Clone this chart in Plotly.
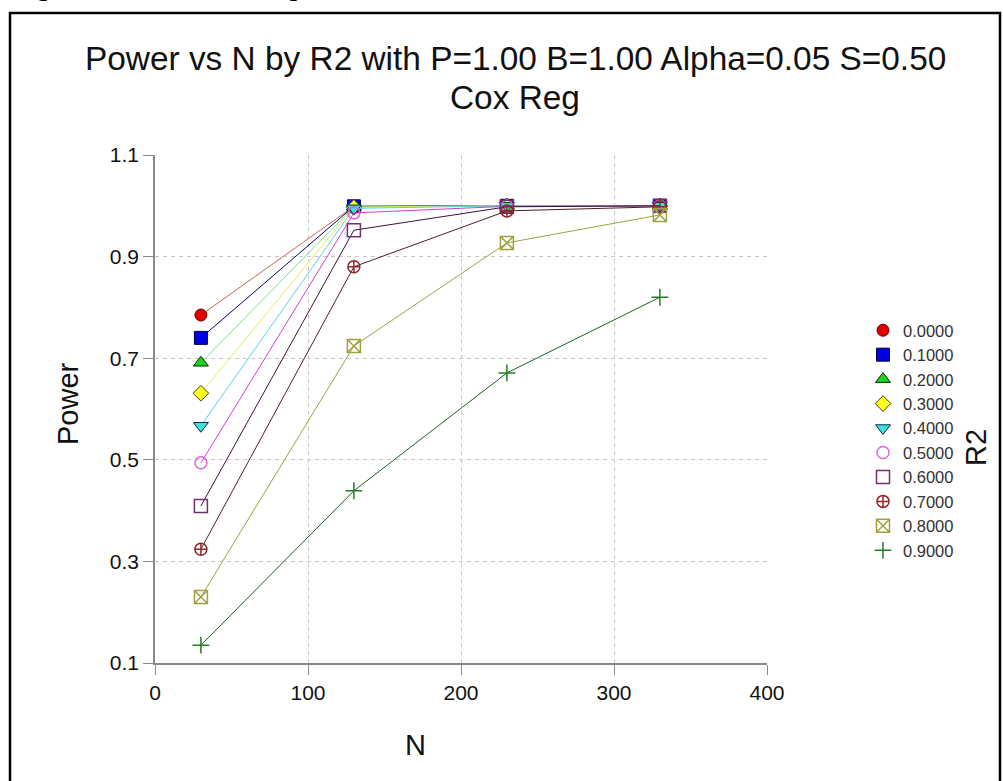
import plotly.graph_objects as go

# ---- data ----
N = [30, 130, 230, 330]
r2_labels = ["0.0000", "0.1000", "0.2000", "0.3000", "0.4000",
             "0.5000", "0.6000", "0.7000", "0.8000", "0.9000"]
power_r00 = [0.785, 0.999, 1.000, 1.000]
power_r01 = [0.740, 0.999, 1.000, 1.000]
power_r02 = [0.691, 0.998, 1.000, 1.000]
power_r03 = [0.631, 0.997, 1.000, 1.000]
power_r04 = [0.567, 0.995, 1.000, 1.000]
power_r05 = [0.494, 0.986, 0.999, 1.000]
power_r06 = [0.409, 0.952, 0.998, 1.000]
power_r07 = [0.324, 0.880, 0.990, 0.998]
power_r08 = [0.230, 0.724, 0.927, 0.982]
power_r09 = [0.135, 0.439, 0.671, 0.820]
x_ticks = [0, 100, 200, 300, 400]
y_ticks = [0.1, 0.3, 0.5, 0.7, 0.9, 1.1]

series = [power_r00, power_r01, power_r02, power_r03, power_r04,
          power_r05, power_r06, power_r07, power_r08, power_r09]

# ---- styles ----
styles = [
    dict(symbol="circle", fill="#E00000", edge="#700000", line="#D06050", size=12),
    dict(symbol="square", fill="#0000E0", edge="#000040", line="#000080", size=13),
    dict(symbol="triangle-up", fill="#20D020", edge="#003000", line="#80E080", size=13),
    dict(symbol="diamond", fill="#FFFF20", edge="#404000", line="#E8E860", size=12),
    dict(symbol="triangle-down", fill="#40E0E0", edge="#003040", line="#60D0E0", size=13),
    dict(symbol="circle-open", fill="#DD66DD", edge="#DD66DD", line="#D040D0", size=12),
    dict(symbol="square-open", fill="#703070", edge="#703070", line="#401040", size=13),
    dict(symbol="circle-cross-open", fill="#902828", edge="#902828", line="#502020", size=12),
    dict(symbol="square-x-open", fill="#A0A040", edge="#A0A040", line="#A0A040", size=13),
    dict(symbol="cross-thin-open", fill="#208020", edge="#208020", line="#206020", size=12),
]

fig = go.Figure()

for name, vals, st in zip(r2_labels, series, styles):
    open_sym = "open" in st["symbol"]
    marker = dict(symbol=st["symbol"], size=st["size"],
                  color=st["fill"],
                  line=dict(color=st["edge"], width=1.5 if open_sym else 1))
    fig.add_trace(go.Scatter(
        x=N, y=vals, mode="lines+markers", name=name,
        line=dict(color=st["line"], width=1),
        marker=marker, showlegend=False, legendgroup=name))
    # legend entry (marker only)
    fig.add_trace(go.Scatter(
        x=[None], y=[None], mode="markers", name=name,
        marker=marker, showlegend=True, legendgroup=name))

W, H = 1003, 781
L, R, T, B = 155, 236, 155, 118
pw, ph = W - L - R, H - T - B


def px_x(px):
    return (px - L) / pw


def px_y(py):
    return (H - B - py) / ph


font_main = "Arial, Liberation Sans, Helvetica, sans-serif"

fig.update_layout(
    width=W, height=H,
    margin=dict(l=L, r=R, t=T, b=B, pad=0),
    paper_bgcolor="white", plot_bgcolor="white",
    font=dict(family=font_main, color="#111111"),
    showlegend=True,
    legend=dict(
        x=px_x(863), y=px_y(313), xanchor="left", yanchor="top",
        font=dict(size=16.5, color="#333333", family=font_main),
        traceorder="normal",
        bgcolor="rgba(0,0,0,0)", borderwidth=0, itemsizing="trace"),
    xaxis=dict(
        range=[0, 400], tickvals=x_ticks, ticktext=[str(v) for v in x_ticks],
        showline=True, linecolor="#8a8a8a", linewidth=1.5,
        ticks="outside", ticklen=10, tickcolor="#8a8a8a", tickwidth=1.2,
        showgrid=True, gridcolor="#c8c8c8", gridwidth=1, griddash="4px,4px",
        zeroline=False, tickfont=dict(size=21, color="#111111"),
        fixedrange=True),
    yaxis=dict(
        range=[0.1, 1.1], tickvals=y_ticks, ticktext=["%.1f" % v for v in y_ticks],
        showline=True, linecolor="#8a8a8a", linewidth=1.5,
        ticks="outside", ticklen=10, tickcolor="#8a8a8a", tickwidth=1.2,
        showgrid=True, gridcolor="#c8c8c8", gridwidth=1, griddash="4px,4px",
        zeroline=False, tickfont=dict(size=21, color="#111111"),
        fixedrange=True),
)

annotations = [
    dict(text="Power vs N by R2 with P=1.00 B=1.00 Alpha=0.05 S=0.50",
         x=px_x(515), y=px_y(59), xref="paper", yref="paper",
         xanchor="center", yanchor="middle", showarrow=False,
         font=dict(size=33.4, color="#111111", family=font_main)),
    dict(text="Cox Reg",
         x=px_x(515), y=px_y(98), xref="paper", yref="paper",
         xanchor="center", yanchor="middle", showarrow=False,
         font=dict(size=33.4, color="#111111", family=font_main)),
    dict(text="Power", x=px_x(68), y=px_y(404), xref="paper", yref="paper",
         xanchor="center", yanchor="middle", showarrow=False, textangle=-90,
         font=dict(size=29, color="#111111", family=font_main)),
    dict(text="N", x=px_x(415), y=px_y(745), xref="paper", yref="paper",
         xanchor="center", yanchor="middle", showarrow=False,
         font=dict(size=29, color="#111111", family=font_main)),
    dict(text="R2", x=px_x(976), y=px_y(447), xref="paper", yref="paper",
         xanchor="center", yanchor="middle", showarrow=False, textangle=-90,
         font=dict(size=29, color="#111111", family=font_main)),
    dict(text="<b>Figure 4. Power and sample size trend</b>",
         x=px_x(12), y=px_y(4), xref="paper", yref="paper",
         xanchor="left", yanchor="bottom", showarrow=False,
         font=dict(size=26, color="#000000",
                   family="Liberation Serif, Times New Roman, serif")),
]
fig.update_layout(annotations=annotations)

# outer frame
fig.add_shape(type="rect", xref="paper", yref="paper",
              x0=px_x(10), x1=px_x(1000), y0=px_y(800), y1=px_y(13),
              line=dict(color="black", width=2.5), fillcolor="rgba(0,0,0,0)",
              layer="above")

fig.write_html("out.html", config={"displayModeBar": False})
